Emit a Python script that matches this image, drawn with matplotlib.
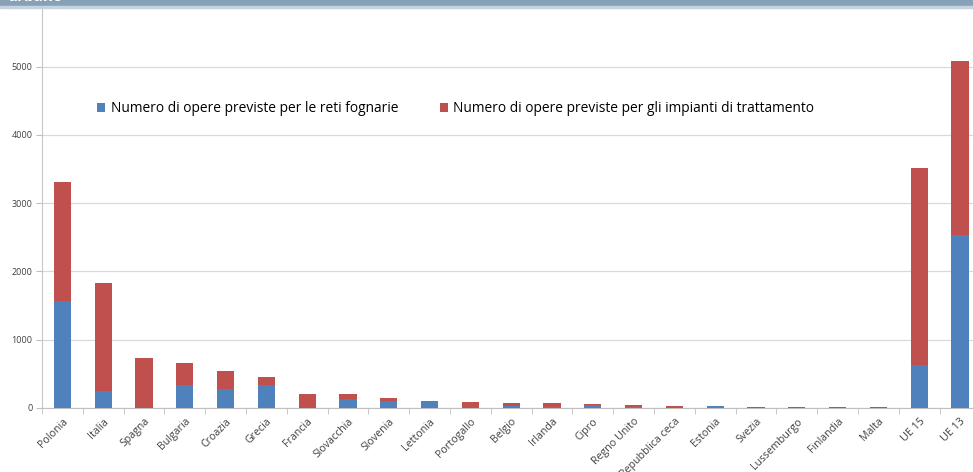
import matplotlib
matplotlib.use("Agg")
import matplotlib.pyplot as plt
from matplotlib.patches import Rectangle
import numpy as np

plt.rcParams['font.family'] = ['Open Sans', 'DejaVu Sans']

paesi = ["Polonia", "Italia", "Spagna", "Bulgaria", "Croazia", "Grecia", "Francia",
         "Slovacchia", "Slovenia", "Lettonia", "Portogallo", "Belgio", "Irlanda",
         "Cipro", "Regno Unito", "Repubblica ceca", "Estonia", "Svezia",
         "Lussemburgo", "Finlandia", "Malta", "UE 15", "UE 13"]

reti_fognarie = [1569, 245, 0, 333, 279, 328, 0, 123, 98, 95, 0, 30, 10,
                 45, 4, 0, 20, 0, 0, 0, 2, 626, 2532]
impianti_trattamento = [1745, 1588, 729, 327, 264, 127, 201, 78, 49, 8, 88, 34, 54,
                        14, 40, 30, 5, 15, 8, 8, 4, 2893, 2556]

etichetta_reti = "Numero di opere previste per le reti fognarie"
etichetta_impianti = "Numero di opere previste per gli impianti di trattamento"

blu = "#4f81bd"
rosso = "#c0504d"

fig = plt.figure(figsize=(9.73, 4.72), dpi=100)
W, H = 973, 472

# plot area in pixels: left edge, baseline and per-category spacing
left_px, base_px, step_px = 42, 407.7, 40.8
n = len(paesi)
ax = fig.add_axes([left_px / W, (H - base_px) / H, n * step_px / W, (base_px + 1.5) / H])

x = np.arange(n)
ax.bar(x, reti_fognarie, width=0.42, color=blu, label=etichetta_reti, zorder=3)
ax.bar(x, impianti_trattamento, width=0.42, bottom=reti_fognarie, color=rosso,
       label=etichetta_impianti, zorder=3)

ax.set_xlim(-0.5, n - 0.5)
ax.set_ylim(0, 6000)
ax.set_yticks([0, 1000, 2000, 3000, 4000, 5000])
ax.yaxis.grid(True, color="#d9d9d9", linewidth=0.9, zorder=0)
ax.set_axisbelow(True)

for s in ["top", "right"]:
    ax.spines[s].set_visible(False)
ax.spines["left"].set_color("#c8c8c8")
ax.spines["bottom"].set_color("#bfbfbf")

ax.set_xticks(x)
ax.set_xticklabels(paesi, rotation=45, ha="right", rotation_mode="anchor",
                   fontsize=7.7, color="#404040")
ax.tick_params(axis="x", length=0, pad=6)
ax.set_xticks(np.arange(-0.5, n, 1), minor=True)
ax.tick_params(axis="x", which="minor", length=4, color="#bfbfbf", direction="out")
ax.tick_params(axis="y", length=4, color="#bfbfbf", labelsize=6.5, labelcolor="#404040", pad=3)

ax.legend(loc="upper left", bbox_to_anchor=(0.053, 0.762), ncol=2, frameon=False,
          fontsize=9.9, handlelength=0.6, handleheight=0.6, columnspacing=3.0,
          handletextpad=0.4, borderaxespad=0)

# header band at the top of the page
fig.patches.append(Rectangle((0, 1 - 6 / H), 1, 6 / H, transform=fig.transFigure,
                             color="#87a2b8", zorder=5))
fig.patches.append(Rectangle((0, 1 - 7.5 / H), 1, 1.5 / H, transform=fig.transFigure,
                             color="#c5d3de", zorder=5))
fig.text(8 / W, 1 - 4 / H, "urbano", color="white", fontsize=11, fontweight="bold",
         va="bottom", ha="left", zorder=6)

fig.savefig("out.png", dpi=100)
